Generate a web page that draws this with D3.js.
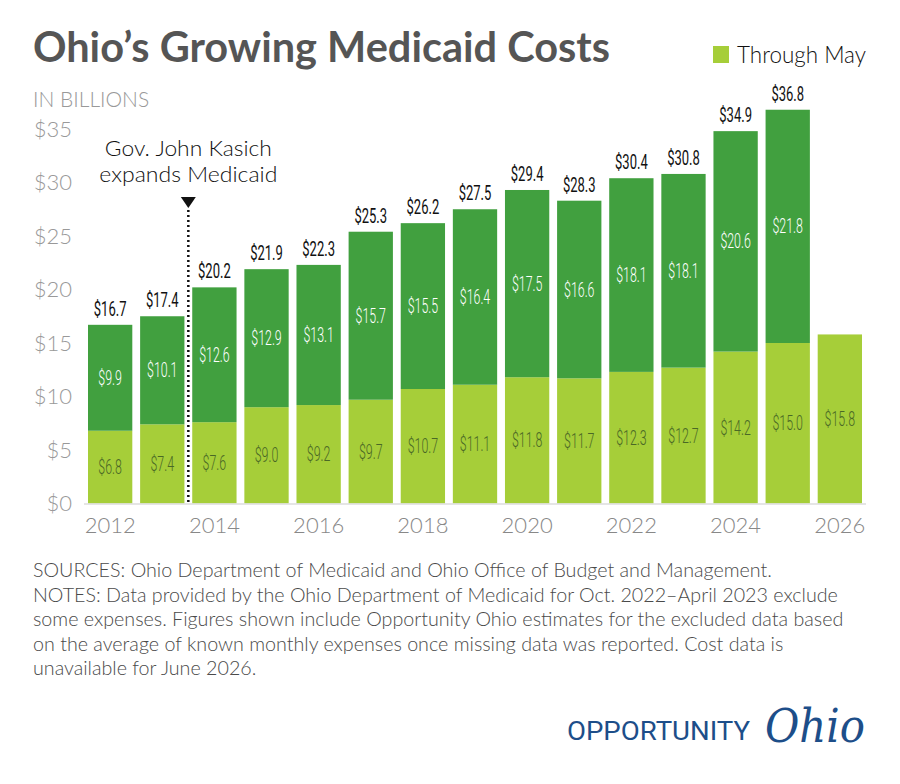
<!DOCTYPE html>
<html>
<head>
<meta charset="utf-8">
<script src="https://cdn.jsdelivr.net/npm/d3@7"></script>
<style>
  body { margin: 0; background: #fff; }
  text { font-family: Lato, "Open Sans", sans-serif; }
</style>
</head>
<body>
<div id="canvas"></div>
<script>
// data, in billions
const years = [2012, 2013, 2014, 2015, 2016, 2017, 2018, 2019, 2020, 2021, 2022, 2023, 2024, 2025, 2026];
const throughMay = [6.8, 7.4, 7.6, 9.0, 9.2, 9.7, 10.7, 11.1, 11.8, 11.7, 12.3, 12.7, 14.2, 15.0, 15.8];
const restOfYear = [9.9, 10.1, 12.6, 12.9, 13.1, 15.7, 15.5, 16.4, 17.5, 16.6, 18.1, 18.1, 20.6, 21.8, null];
const totals = [16.7, 17.4, 20.2, 21.9, 22.3, 25.3, 26.2, 27.5, 29.4, 28.3, 30.4, 30.8, 34.9, 36.8, null];
const yTicks = [0, 5, 10, 15, 20, 25, 30, 35];
const xTicks = [2012, 2014, 2016, 2018, 2020, 2022, 2024, 2026];
const notes = [
  "SOURCES: Ohio Department of Medicaid and Ohio Office of Budget and Management.",
  "NOTES: Data provided by the Ohio Department of Medicaid for Oct. 2022\u2013April 2023 exclude",
  "some expenses. Figures shown include Opportunity Ohio estimates for the excluded data based",
  "on the average of known monthly expenses once missing data was reported. Cost data is",
  "unavailable for June 2026."
];

const width = 900;
const height = 784;
const lightGreen = "#a6ce39";
const darkGreen = "#41a03f";

const svg = d3.select("#canvas").append("svg")
  .attr("width", width)
  .attr("height", height);

const data = years.map((y, i) => ({
  year: y,
  may: throughMay[i],
  rest: restOfYear[i],
  total: totals[i]
}));

const x = d3.scaleBand()
  .domain(years)
  .range([88, 862])
  .paddingInner(0.15)
  .paddingOuter(0);

const y = d3.scaleLinear()
  .domain([0, 35])
  .range([503.5, 129]);

// condensed labels: squeeze a normal face horizontally
function label(g, cx, cy, txt, size, color, squeeze, weight) {
  g.append("text")
    .attr("transform", `translate(${cx},${cy}) scale(${squeeze},1)`)
    .attr("text-anchor", "middle")
    .style("font-family", "Roboto, sans-serif")
    .style("font-size", size + "px")
    .style("font-weight", weight)
    .style("fill", color)
    .text(txt);
}

// title
svg.append("text")
  .attr("x", 33)
  .attr("y", 62)
  .attr("textLength", 577)
  .attr("lengthAdjust", "spacingAndGlyphs")
  .style("font-size", "42px")
  .style("font-weight", 700)
  .style("fill", "#555")
  .text("Ohio\u2019s Growing Medicaid Costs");

// legend
svg.append("rect")
  .attr("x", 713).attr("y", 46)
  .attr("width", 16).attr("height", 17)
  .style("fill", lightGreen);
svg.append("text")
  .attr("x", 737).attr("y", 63)
  .attr("textLength", 129)
  .attr("lengthAdjust", "spacingAndGlyphs")
  .style("font-size", "23px")
  .style("font-weight", 300)
  .style("fill", "#111")
  .text("Through May");

svg.append("text")
  .attr("x", 33).attr("y", 107)
  .style("font-size", "21px")
  .style("font-weight", 300)
  .style("fill", "#999")
  .text("IN BILLIONS");

// y axis labels
const yAxis = svg.append("g")
  .attr("class", "y--axis")
  .attr("transform", "translate(72,0)")
  .call(d3.axisLeft(y).tickValues(yTicks).tickSize(0).tickPadding(0).tickFormat(d => "$" + d));
yAxis.select(".domain").remove();
yAxis.selectAll("text")
  .style("font-family", "Lato, sans-serif")
  .style("font-size", "22px")
  .style("font-weight", 300)
  .style("fill", "#999");

// bars
const g = svg.append("g");

g.selectAll("rect.may").data(data).enter().append("rect")
  .attr("class", "may")
  .attr("x", d => x(d.year))
  .attr("width", x.bandwidth())
  .attr("y", d => y(d.may))
  .attr("height", d => y(0) - y(d.may))
  .style("fill", lightGreen);

g.selectAll("rect.rest").data(data.filter(d => d.rest != null)).enter().append("rect")
  .attr("class", "rest")
  .attr("x", d => x(d.year))
  .attr("width", x.bandwidth())
  .attr("y", d => y(d.may + d.rest))
  .attr("height", d => y(d.may) - y(d.may + d.rest))
  .style("fill", darkGreen);

data.forEach(d => {
  const cx = x(d.year) + x.bandwidth() / 2;
  label(g, cx, y(d.may / 2) + 7, "$" + d.may.toFixed(1), 20, "#4a6826", 0.62, 300);
  if (d.rest != null) {
    label(g, cx, y(d.may + d.rest / 2) + 7, "$" + d.rest.toFixed(1), 20, "#fff", 0.62, 300);
  }
  if (d.total != null) {
    label(g, cx, y(d.may + d.rest) - 9, "$" + d.total.toFixed(1), 21, "#111", 0.62, 400);
  }
});

// baseline + year labels
svg.append("line")
  .attr("x1", 84).attr("x2", 866)
  .attr("y1", y(0) + 0.5).attr("y2", y(0) + 0.5)
  .style("stroke", "#ddd")
  .style("stroke-width", 1.5);

const xAxis = svg.append("g")
  .attr("class", "x--axis")
  .attr("transform", `translate(0,${y(0)})`)
  .call(d3.axisBottom(x).tickValues(xTicks).tickSize(0).tickPadding(14));
xAxis.select(".domain").remove();
xAxis.selectAll("text")
  .style("font-family", "Lato, sans-serif")
  .style("font-size", "22px")
  .style("font-weight", 300)
  .style("fill", "#888");

// Kasich annotation between 2013 and 2014
const ax = (x(2013) + x.bandwidth() + x(2014)) / 2;
svg.append("text")
  .attr("x", ax).attr("y", 156)
  .attr("text-anchor", "middle")
  .attr("textLength", 167)
  .attr("lengthAdjust", "spacingAndGlyphs")
  .style("font-size", "22px")
  .style("font-weight", 300)
  .style("fill", "#111")
  .text("Gov. John Kasich");
svg.append("text")
  .attr("x", ax).attr("y", 182)
  .attr("text-anchor", "middle")
  .attr("textLength", 178)
  .attr("lengthAdjust", "spacingAndGlyphs")
  .style("font-size", "22px")
  .style("font-weight", 300)
  .style("fill", "#111")
  .text("expands Medicaid");
svg.append("path")
  .attr("d", `M${ax - 7.5},197 L${ax + 7.5},197 L${ax},208 Z`)
  .style("fill", "#111");
svg.append("line")
  .attr("x1", ax).attr("x2", ax)
  .attr("y1", 210).attr("y2", y(0))
  .style("stroke", "#111")
  .style("stroke-width", 2.5)
  .style("stroke-dasharray", "2,3");

// notes: size the font so the widest line spans like the original
const noteText = svg.append("g").selectAll("text").data(notes).enter().append("text")
  .attr("x", 33)
  .attr("y", (d, i) => 577 + i * 24.5)
  .style("font-family", "Lato, sans-serif")
  .style("font-size", "17px")
  .style("font-weight", 300)
  .style("fill", "#4a4a4a")
  .text(d => d);
const w2 = noteText.nodes()[1].getComputedTextLength();
noteText.style("font-size", (17 * 805 / w2) + "px");

// logo
svg.append("text")
  .attr("x", 567).attr("y", 740)
  .attr("textLength", 183)
  .attr("lengthAdjust", "spacingAndGlyphs")
  .style("font-family", "Roboto, sans-serif")
  .style("font-size", "25px")
  .style("fill", "#1d4e89")
  .text("OPPORTUNITY");
svg.append("text")
  .attr("x", 765).attr("y", 742)
  .attr("textLength", 100)
  .attr("lengthAdjust", "spacingAndGlyphs")
  .style("font-family", "'DejaVu Serif', serif")
  .style("font-style", "italic")
  .style("font-size", "46px")
  .style("fill", "#1d4e89")
  .text("Ohio");
</script>
</body>
</html>
